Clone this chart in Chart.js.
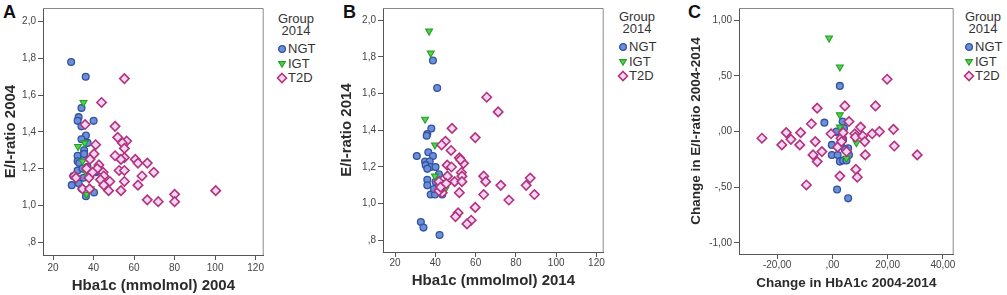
<!DOCTYPE html>
<html>
<head>
<meta charset="utf-8">
<script src="https://cdn.jsdelivr.net/npm/chart.js@4.4.1/dist/chart.umd.min.js"></script>
<style>
  html, body { margin: 0; padding: 0; background: #fff; }
  body { width: 1007px; height: 295px; position: relative; overflow: hidden;
         font-family: "Liberation Sans", Arial, sans-serif; }
  canvas { position: absolute; top: 0; }
  .letter { position: absolute; top: 3px; font-size: 18px; line-height: 18px; font-weight: bold; color: #111; }
  .lg { position: absolute; font-size: 13px; line-height: 14px; color: #333; white-space: nowrap; }
  .lgc { text-align: center; }
  svg.mk { position: absolute; overflow: visible; }
</style>
</head>
<body>
<div class="letter" style="left:3px">A</div>
<div class="letter" style="left:343px">B</div>
<div class="letter" style="left:688px">C</div>
<canvas id="chart-a" width="270" height="295" style="left:0px;width:270px;height:295px"></canvas>
<canvas id="chart-b" width="280" height="295" style="left:330px;width:280px;height:295px"></canvas>
<canvas id="chart-c" width="280" height="295" style="left:680px;width:280px;height:295px"></canvas>
<div id="legends"></div>
<script>
// ── series: [x, y] pairs ──
const GROUPS = ['NGT', 'IGT', 'T2D'];
const LEGEND_TITLE = ['Group', '2014'];

// A: Hba1c 2004 vs E/I-ratio 2004
const A_NGT = [[28.9,1.78],[36.1,1.70],[34,1.53],[32.6,1.48],[32.1,1.46],[40,1.46],[34,1.43],[36.2,1.38],[34,1.36],[37,1.34],
  [35.3,1.30],[32.1,1.27],[35.3,1.26],[35.3,1.28],[32.1,1.24],[32.9,1.23],[37,1.21],[32.1,1.19],[34.5,1.20],[41,1.18],
  [40,1.18],[29.2,1.11],[32.6,1.12],[34.2,1.09],[40.2,1.07],[36.2,1.05],[30,1.16],[35,1.15]];
const A_IGT = [[35,1.56],[32.3,1.32],[35.6,1.34],[34.5,1.24],[36.2,1.18],[38.6,1.09],[36.5,1.06]];
const A_T2D = [[55.2,1.69],[43.9,1.56],[35.8,1.44],[50.6,1.43],[51.9,1.37],[56.3,1.35],[54.2,1.34],[41,1.33],[55.2,1.31],[40.2,1.28],
  [50.6,1.27],[55.2,1.26],[53.5,1.25],[60.6,1.25],[38.2,1.25],[61.9,1.23],[66.5,1.23],[42.6,1.22],[41.8,1.20],[52.6,1.19],
  [55.2,1.19],[69.7,1.18],[44.7,1.18],[30.5,1.16],[45,1.16],[63.9,1.16],[31.3,1.15],[37.7,1.15],[43.4,1.14],[48,1.13],
  [55.2,1.13],[45,1.11],[61.9,1.11],[34.5,1.09],[38,1.09],[47.4,1.08],[53.5,1.08],[100.3,1.08],[80,1.06],[66.5,1.03],
  [71.9,1.02],[80,1.02],[36.5,1.20],[39.5,1.18]];

// B: Hba1c 2014 vs E/I-ratio 2014
const B_NGT = [[38.8,1.78],[40.9,1.63],[38,1.41],[36,1.38],[35.7,1.37],[30.8,1.26],[36.5,1.28],[38.8,1.26],[34.9,1.23],[37.2,1.23],
  [35.2,1.21],[37.7,1.20],[40.1,1.20],[36,1.19],[41.8,1.16],[36,1.13],[36,1.10],[37.7,1.05],[39.8,1.05],[43.4,1.05],
  [32.8,0.90],[34.1,0.87],[42.1,0.83],[39.3,1.08],[40.1,1.12]];
const B_IGT = [[36.9,1.94],[37.7,1.82],[34.9,1.46],[39.8,1.32],[39.8,1.15],[45,1.08]];
const B_T2D = [[65.5,1.58],[71.2,1.50],[48.3,1.41],[59.8,1.36],[45,1.34],[43.1,1.32],[47.8,1.29],[51.9,1.25],[54,1.22],[45.9,1.21],
  [48,1.20],[52.5,1.24],[41.8,1.12],[46,1.15],[52.9,1.17],[53.2,1.15],[64,1.15],[65,1.12],[49.6,1.12],[53.2,1.12],
  [72.5,1.10],[85.1,1.10],[87.1,1.14],[89.2,1.05],[76.5,1.02],[64,1.05],[51.9,1.06],[43.4,1.06],[41.8,1.07],[44.2,1.10],
  [59.8,0.98],[51.3,0.95],[50,0.93],[57.8,0.91],[55.7,0.89],[42.6,1.09],[45.4,1.11]];

// C: change in HbA1c vs change in E/I-ratio
const C_NGT = [[2.7,0.41],[-2.9,0.08],[3.7,0.09],[-0.2,-0.12],[-0.2,-0.21],[1.9,-0.21],[2.7,-0.27],[3.9,-0.26],[5.1,-0.26],[5.7,-0.15],
  [2.1,-0.01],[3.9,-0.07],[1.7,-0.52],[5.7,-0.60],[3.1,-0.12],[4.5,-0.16],[6,-0.21],[1.5,0.0],[4.2,0.03]];
const C_IGT = [[-1.2,0.84],[2.7,0.58],[2.7,0.15],[2.7,0.04],[5.1,-0.24],[8.7,-0.10]];
const C_T2D = [[-25.5,-0.06],[-18.3,-0.12],[-16.7,-0.01],[-15,-0.07],[-11.5,-0.01],[-11.8,-0.12],[-9.4,-0.48],[-7.6,0.07],[-7,-0.21],[-6.2,-0.09],
  [-5.5,0.21],[-5.5,-0.27],[-3.8,-0.18],[-0.5,-0.02],[1.9,-0.14],[2.7,-0.40],[3.1,-0.06],[3.9,-0.01],[4.5,0.23],[5.1,-0.18],
  [6,0.09],[8.1,-0.02],[8.3,-0.05],[8.5,-0.34],[9,-0.41],[10.2,0.04],[11,-0.04],[11.7,-0.09],[11.9,-0.21],[14.4,-0.02],
  [15.6,0.23],[17,0.00],[19.8,0.47],[22.1,0.02],[22.4,-0.13],[30.7,-0.21],[3.3,-0.09]];

// ── ticks ──
const AB_XTICKS = [20, 40, 60, 80, 100, 120];
const AB_XLABELS = ['20', '40', '60', '80', '100', '120'];
const AB_YTICKS = [0.8, 1.0, 1.2, 1.4, 1.6, 1.8, 2.0];
const AB_YLABELS = [',8', '1,0', '1,2', '1,4', '1,6', '1,8', '2,0'];
const C_XTICKS = [-20, 0, 20, 40];
const C_XLABELS = ['-20,00', ',00', '20,00', '40,00'];
const C_YTICKS = [-1, -0.5, 0, 0.5, 1];
const C_YLABELS = ['-1,00', '-,50', ',00', ',50', '1,00'];

const COL = {
  NGT: { fill: '#6b8fd8', line: '#33529f' },
  IGT: { fill: '#52d052', line: '#22a022' },
  T2D: { fill: '#f1d5f5', line: '#b3337c' },
};
const FONT = '"Liberation Sans", Arial, sans-serif';

const pts = arr => arr.map(([x, y]) => ({ x, y }));

// top + right edges of the plot box
const frame = {
  id: 'frame',
  beforeDatasetsDraw(chart) {
    const { ctx, chartArea: a } = chart;
    ctx.save();
    ctx.strokeStyle = '#8a8a8a';
    ctx.lineWidth = 1;
    ctx.beginPath();
    ctx.moveTo(a.left, a.top + 0.5);
    ctx.lineTo(a.right - 0.5, a.top + 0.5);
    ctx.lineTo(a.right - 0.5, a.bottom);
    ctx.stroke();
    ctx.restore();
  }
};

function buildPanel(id, p) {
  const axis = (ticks, labels, min, max, title, titleSize, titlePad, tickPad, fit) => ({
    type: 'linear', min, max,
    afterBuildTicks: s => { s.ticks = ticks.map(v => ({ value: v })); },
    afterFit: fit,
    ticks: { autoSkip: false, maxRotation: 0, padding: tickPad, color: '#444',
             font: { family: FONT, size: 10 }, callback: (v, i) => labels[i] },
    grid: { drawOnChartArea: false, drawTicks: true, tickLength: 5, color: '#555', lineWidth: 1 },
    border: { display: true, color: '#555', width: 1 },
    title: { display: true, text: title, color: '#2b2b2b', padding: titlePad,
             font: { family: FONT, size: titleSize, weight: 'bold' } },
  });

  new Chart(document.getElementById(id), {
    type: 'scatter',
    data: {
      datasets: [
        { label: 'T2D', data: pts(p.t2d), order: 0, pointStyle: 'rectRot', pointRadius: 4.7,
          backgroundColor: COL.T2D.fill, borderColor: COL.T2D.line, borderWidth: 1.6 },
        { label: 'IGT', data: pts(p.igt), order: 1, pointStyle: 'triangle', rotation: 180, pointRadius: 4,
          backgroundColor: COL.IGT.fill, borderColor: COL.IGT.line, borderWidth: 1.1 },
        { label: 'NGT', data: pts(p.ngt), order: 2, pointStyle: 'circle', pointRadius: 3.4,
          backgroundColor: COL.NGT.fill, borderColor: COL.NGT.line, borderWidth: 1.3 },
      ]
    },
    options: {
      responsive: false, animation: false, events: [],
      layout: { padding: { top: p.top, right: p.right, left: 0, bottom: 0 } },
      plugins: { legend: { display: false }, tooltip: { enabled: false } },
      scales: {
        x: axis(p.xt, p.xl, p.xmin, p.xmax, p.xtitle, p.ts, { top: 0, bottom: p.xtp }, p.xtickPad,
                s => { s.height = p.xh; }),
        y: axis(p.yt, p.yl, p.ymin, p.ymax, p.ytitle, p.ts, { top: p.ytp, bottom: 0 }, 2,
                s => { s.width = p.yw; }),
      }
    },
    plugins: [frame]
  });
}

buildPanel('chart-a', {
  ngt: A_NGT, igt: A_IGT, t2d: A_T2D,
  xt: AB_XTICKS, xl: AB_XLABELS, yt: AB_YTICKS, yl: AB_YLABELS,
  xmin: 15, xmax: 124, ymin: 0.73, ymax: 2.074,
  xtitle: 'Hba1c (mmolmol) 2004', ytitle: 'E/I-ratio 2004', ts: 15,
  top: 7, right: 2, yw: 43, xh: 40, ytp: 2, xtp: 0, xtickPad: 2,
});
buildPanel('chart-b', {
  ngt: B_NGT, igt: B_IGT, t2d: B_T2D,
  xt: AB_XTICKS, xl: AB_XLABELS, yt: AB_YTICKS, yl: AB_YLABELS,
  xmin: 14, xmax: 123.6, ymin: 0.737, ymax: 2.066,
  xtitle: 'Hba1c (mmolmol) 2014', ytitle: 'E/I-ratio 2014', ts: 15,
  top: 5, right: 3, yw: 53, xh: 43, ytp: 8, xtp: 5, xtickPad: 0,
});
buildPanel('chart-c', {
  ngt: C_NGT, igt: C_IGT, t2d: C_T2D,
  xt: C_XTICKS, xl: C_XLABELS, yt: C_YTICKS, yl: C_YLABELS,
  xmin: -33.8, xmax: 43.9, ymin: -1.10, ymax: 1.11,
  xtitle: 'Change in HbA1c 2004-2014', ytitle: 'Change in E/I-ratio 2004-2014', ts: 13.5,
  top: 5, right: 3, yw: 59, xh: 41, ytp: 8, xtp: 4, xtickPad: 0,
});

// ── legends (Group 2014) ──
const LEGENDS = [
  { left: 278, top: 18.5 },
  { left: 619, top: 16.5 },
  { left: 965, top: 16.5 },
];
const ROW_Y = [30, 45, 59.5];
const SHAPES = {
  NGT: c => `<circle cx="5" cy="5" r="3.4" fill="${c.fill}" stroke="${c.line}" stroke-width="1.3"/>`,
  IGT: c => `<polygon points="1.6,2.6 8.4,2.6 5,8.2" fill="${c.fill}" stroke="${c.line}" stroke-width="1.1"/>`,
  T2D: c => `<polygon points="5,0.5 9.5,5 5,9.5 0.5,5" fill="${c.fill}" stroke="${c.line}" stroke-width="1.6"/>`,
};
const host = document.getElementById('legends');
LEGENDS.forEach(L => {
  let html = `<div class="lg lgc" style="left:${L.left - 2}px;top:${L.top - 7}px;width:40px">${LEGEND_TITLE[0]}</div>`;
  html += `<div class="lg lgc" style="left:${L.left - 2}px;top:${L.top + 12 - 7}px;width:40px">${LEGEND_TITLE[1]}</div>`;
  GROUPS.forEach((g, i) => {
    const cy = L.top + ROW_Y[i];
    html += `<svg class="mk" width="10" height="10" style="left:${L.left - 1}px;top:${cy - 5}px">${SHAPES[g](COL[g])}</svg>`;
    html += `<div class="lg" style="left:${L.left + 10}px;top:${cy - 7}px">${g}</div>`;
  });
  host.insertAdjacentHTML('beforeend', html);
});
</script>
</body>
</html>
